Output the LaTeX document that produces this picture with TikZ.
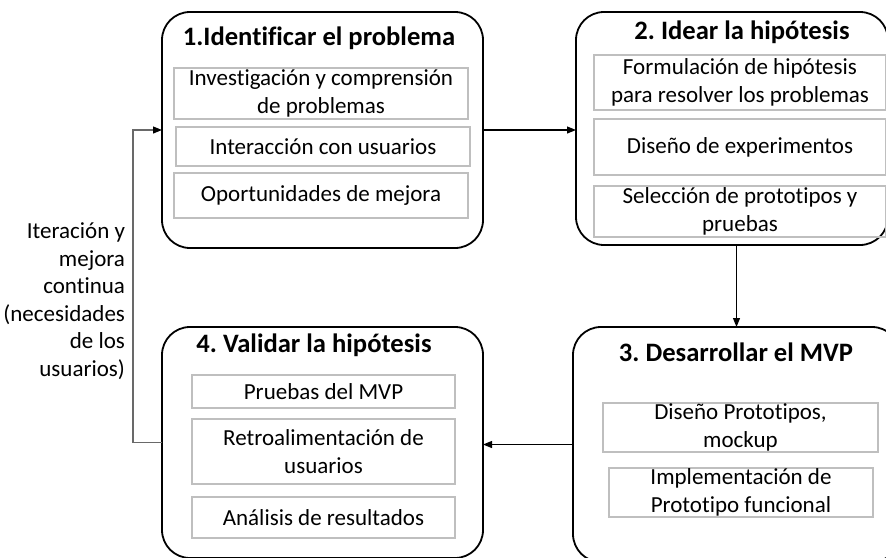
\documentclass[tikz,border=0pt]{standalone}
\usepackage{fontspec}
\setmainfont{Carlito}[Ligatures=NoCommon]
\usetikzlibrary{arrows.meta,positioning}
\definecolor{boxgray}{RGB}{191,191,191}
\definecolor{loopgray}{RGB}{105,105,105}
\frenchspacing

\begin{document}
\begin{tikzpicture}[x=1pt,y=-1pt,>={Triangle[length=9pt,width=7pt]},
  stage/.style={draw,line width=1.8pt,rounded corners=28pt,inner sep=0pt,outer sep=0pt},
  title/.style={font=\bfseries\fontsize{26.6}{30}\selectfont},
  item/.style={draw=boxgray,line width=1.5pt,inner sep=0pt,outer sep=0pt,align=center,
    font=\fontsize{23}{27.5}\selectfont},
  link/.style={->,line width=1.1pt}]
  \useasboundingbox (0,0) rectangle (886,557);

  % the four stages
  \node[stage,minimum width=321pt,minimum height=236pt] (b1) at (322.5,130) {};
  \node[stage,minimum width=312pt,minimum height=233pt] (b2) at (732,128.5) {};
  \node[stage,minimum width=327pt,minimum height=235pt] (b3) at (736.5,444.5) {};
  \node[stage,minimum width=321pt,minimum height=231pt] (b4) at (322.5,442.5) {};

  \node[title] (t1) at (319,38) {1.Identificar el problema};
  \node[title] (t2) at (742,32) {2. Idear la hipótesis};
  \node[title] (t3) at (736,352) {3. Desarrollar el MVP};
  \node[title] (t4) at (314,345) {4. Validar la hipótesis};

  % contents
  \node[item,minimum width=294pt,minimum height=51pt] (i11) at (321,93.5) {Investigación y comprensión\\de problemas};
  \node[item,minimum width=294pt,minimum height=39pt] (i12) at (323,146.5) {Interacción con usuarios};
  \node[item,minimum width=294pt,minimum height=45pt] (i13) at (321,195.5) {Oportunidades de mejora};

  \node[item,minimum width=292pt,minimum height=55pt] (i21) at (740,82.5) {Formulación de hipótesis\\para resolver los problemas};
  \node[item,minimum width=292pt,minimum height=56pt] (i22) at (740,147) {Diseño de experimentos};
  \node[item,minimum width=292pt,minimum height=51pt] (i23) at (740,211.5) {Selección de prototipos y\\pruebas};

  \node[item,minimum width=275pt,minimum height=49pt] (i31) at (740.5,427.5) {Diseño Prototipos,\\mockup};
  \node[item,minimum width=264pt,minimum height=49pt] (i32) at (741,492.5) {Implementación de\\Prototipo funcional};

  \node[item,minimum width=263pt,minimum height=33pt] (i41) at (323.5,391.5) {Pruebas del MVP};
  \node[item,minimum width=263pt,minimum height=65pt] (i42) at (323.5,451.5) {Retroalimentación de\\usuarios};
  \node[item,minimum width=263pt,minimum height=41pt] (i43) at (323.5,517.5) {Análisis de resultados};

  \node[anchor=east,align=right,font=\fontsize{23}{27.5}\selectfont] (note) at (128.5,301)
    {Iteración y\\mejora\\continua\\(necesidades\\de los\\usuarios)};

  % flow
  \draw[link] (b1.east) -- (b1.east -| b2.west);
  \draw[link] (b2.south -| b3.north) -- (b3.north);
  \draw[link] (b3.west) -- (b3.west -| b4.east);
  \draw[line width=1.1pt,loopgray,-{Triangle[length=9pt,width=7pt,color=black]}]
    (b4.west) -- ++(-29,0) |- (b1.west);
\end{tikzpicture}
\end{document}
